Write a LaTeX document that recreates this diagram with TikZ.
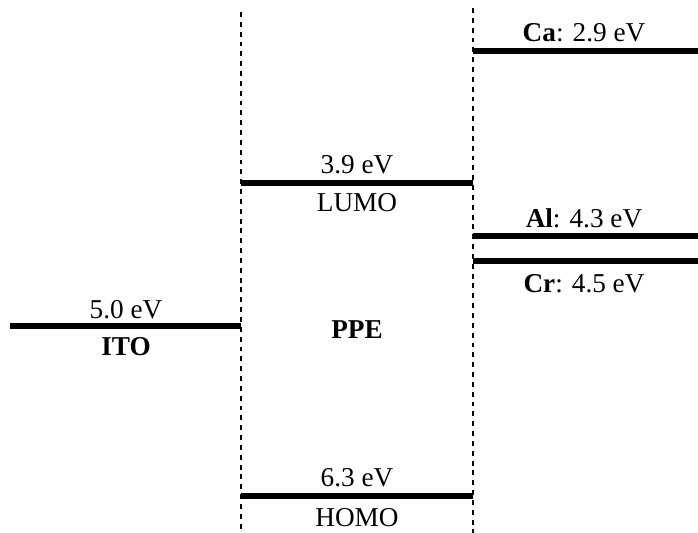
\documentclass[tikz,border=0pt]{standalone}
\usepackage{fontspec}
\setmainfont{Liberation Serif}
\usepackage{tikz}

\begin{document}
\begin{tikzpicture}[x=0.02cm, y=-0.02cm,
    level/.style={line width=2.9pt},
    sep/.style={line width=1.6pt, dash pattern=on 2.8pt off 2.8pt},
    lbl/.style={font=\fontsize{15.5}{17}\selectfont, inner sep=0pt}]
      \useasboundingbox (0,0) rectangle (698,533);
      % dotted separators
      \coordinate (s1t) at (241,12);
      \coordinate (s1b) at (241,533);
      \coordinate (s2t) at (473,8);
      \coordinate (s2b) at (473,533);
      \draw[sep] (s1t) -- (s1b);
      \draw[sep] (s2t) -- (s2b);
      % ITO
      \coordinate (itoL) at (10,326);
      \coordinate (itoR) at (241,326);
      \draw[level] (itoL) -- (itoR);
      \node[lbl] (itoe) at (126,310) {5.0 eV};
      \node[lbl] (ito) at (126,347) {\textbf{ITO}};
      % PPE
      \coordinate (lumoL) at (241,183);
      \coordinate (lumoR) at (473,183);
      \draw[level] (lumoL) -- (lumoR);
      \node[lbl] (lumoe) at (357,165) {3.9 eV};
      \node[lbl] (lumo) at (357,203) {LUMO};
      \node[lbl] (ppe) at (357,330) {\textbf{PPE}};
      \coordinate (homoL) at (241,496);
      \coordinate (homoR) at (473,496);
      \draw[level] (homoL) -- (homoR);
      \node[lbl] (homoe) at (357,478) {6.3 eV};
      \node[lbl] (homo) at (357,518) {HOMO};
      % cathodes
      \coordinate (caL) at (473,51);
      \coordinate (caR) at (698,51);
      \draw[level] (caL) -- (caR);
      \node[lbl] (ca) at (584,33) {\textbf{Ca}: 2.9 eV};
      \coordinate (alL) at (473,236);
      \coordinate (alR) at (698,236);
      \draw[level] (alL) -- (alR);
      \node[lbl] (al) at (584,218) {\textbf{Al}: 4.3 eV};
      \coordinate (crL) at (473,261);
      \coordinate (crR) at (698,261);
      \draw[level] (crL) -- (crR);
      \node[lbl] (cr) at (584,284) {\textbf{Cr}: 4.5 eV};
\end{tikzpicture}
\end{document}
